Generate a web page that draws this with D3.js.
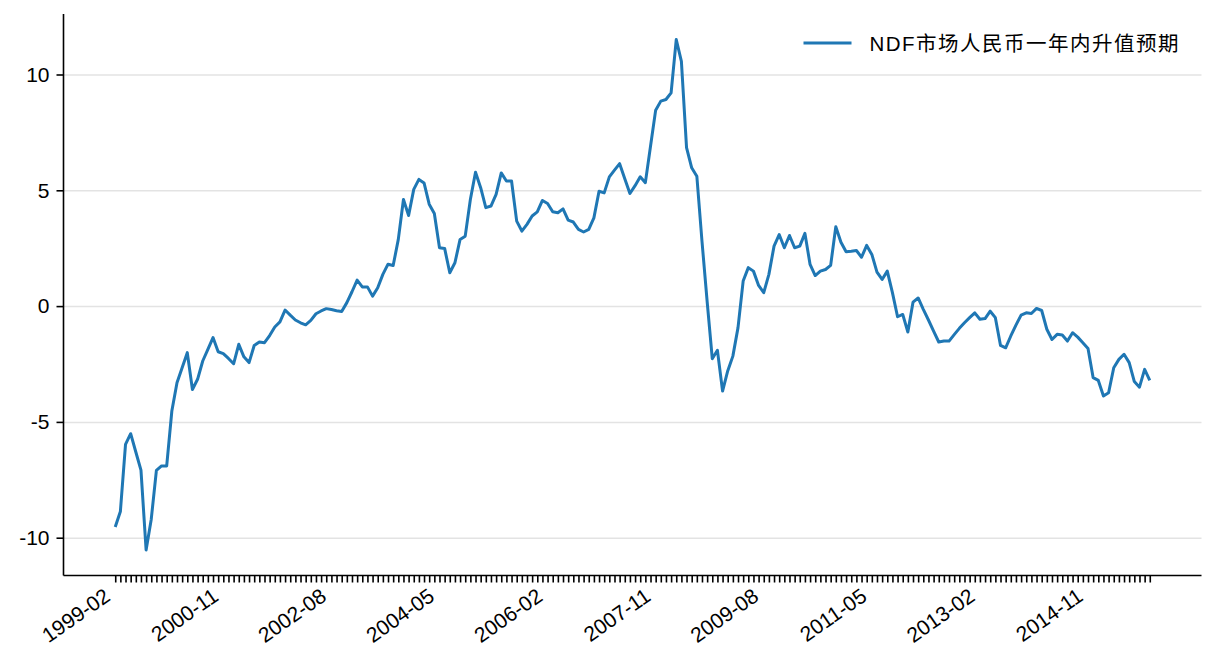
<!DOCTYPE html>
<html>
<head>
<meta charset="utf-8">
<script src="https://cdn.jsdelivr.net/npm/d3@7"></script>
<style>
    body { margin: 0; background: #fff; }
    #chart { width: 1216px; height: 672px; }
    text { font-family: "Liberation Sans", Arial, "Noto Sans CJK SC", sans-serif; fill: #000; }
    .legend text { font-family: "Liberation Sans", "Noto Sans CJK SC", sans-serif; }
    .axis path, .axis line { stroke: #000; stroke-width: 1.6px; }
    .grid line { stroke: #e3e3e3; stroke-width: 1.5px; }
    .grid path { display: none; }
</style>
</head>
<body>
<div id="chart"></div>
<script>
// monthly series, 1999-02 .. 2015-11
const startMonth = new Date(1999, 1, 1);
const values = [
    -9.54, -8.87, -5.97, -5.51, -6.3, -7.08, -10.53, -9.2, -7.09, -6.9,
    -6.9, -4.53, -3.31, -2.66, -2.01, -3.6, -3.16, -2.37, -1.87, -1.36,
    -1.97, -2.05, -2.26, -2.49, -1.65, -2.19, -2.44, -1.7, -1.55, -1.58,
    -1.27, -0.9, -0.68, -0.17, -0.39, -0.6, -0.72, -0.81, -0.62, -0.33,
    -0.21, -0.11, -0.15, -0.2, -0.23, 0.15, 0.62, 1.12, 0.83, 0.83,
    0.43, 0.79, 1.37, 1.81, 1.75, 2.88, 4.6, 3.91, 5.04, 5.47,
    5.32, 4.4, 4.0, 2.52, 2.49, 1.44, 1.87, 2.88, 3.02, 4.6,
    5.78, 5.11, 4.25, 4.32, 4.82, 5.75, 5.4, 5.4, 3.67, 3.24,
    3.53, 3.89, 4.07, 4.56, 4.43, 4.07, 4.03, 4.2, 3.71, 3.63,
    3.31, 3.2, 3.31, 3.81, 4.96, 4.89, 5.58, 5.87, 6.15, 5.5,
    4.86, 5.2, 5.58, 5.33, 6.9, 8.46, 8.85, 8.92, 9.21, 11.51,
    10.57, 6.84, 5.97, 5.61, 2.8, 0.2, -2.27, -1.91, -3.67, -2.8,
    -2.16, -0.93, 1.08, 1.66, 1.51, 0.89, 0.58, 1.37, 2.59, 3.09,
    2.52, 3.05, 2.52, 2.59, 3.14, 1.8, 1.32, 1.51, 1.58, 1.76,
    3.43, 2.76, 2.35, 2.37, 2.4, 2.11, 2.62, 2.23, 1.47, 1.15,
    1.51, 0.58, -0.46, -0.36, -1.12, 0.17, 0.35, -0.14, -0.6, -1.08,
    -1.55, -1.51, -1.51, -1.23, -0.96, -0.72, -0.5, -0.29, -0.57, -0.54,
    -0.22, -0.5, -1.7, -1.8, -1.29, -0.82, -0.39, -0.29, -0.32, -0.1,
    -0.19, -1.0, -1.44, -1.22, -1.25, -1.51, -1.15, -1.34, -1.58, -1.83,
    -3.09, -3.21, -3.88, -3.74, -2.66, -2.3, -2.08, -2.44, -3.26, -3.5,
    -2.73, -3.21
];
const tickLabels = ["1999-02", "2000-11", "2002-08", "2004-05", "2006-02",
    "2007-11", "2009-08", "2011-05", "2013-02", "2014-11"];
const yTicks = [-10, -5, 0, 5, 10];
const seriesName = "NDF市场人民币一年内升值预期";

const fmtMonth = d3.timeFormat("%Y-%m");
const months = values.map((v, i) => fmtMonth(d3.timeMonth.offset(startMonth, i)));
const data = months.map((m, i) => ({ month: m, value: values[i] }));

class LineVis {
    constructor(parentElement, data) {
        this.parentElement = parentElement;
        this.data = data;
        this.initVis();
    }

    initVis() {
        const vis = this;

        vis.margin = { top: 14, right: 14.5, bottom: 96.5, left: 63.5 };
        vis.width = 1216 - vis.margin.left - vis.margin.right;
        vis.height = 672 - vis.margin.top - vis.margin.bottom;

        vis.svg = d3.select("#" + vis.parentElement)
            .append("svg")
            .attr("width", 1216)
            .attr("height", 672)
            .append("g")
            .attr("transform", `translate(${vis.margin.left}, ${vis.margin.top})`);

        // matplotlib-like 5% margins on both axes
        const n = vis.data.length;
        vis.xScale = d3.scalePoint()
            .domain(vis.data.map(d => d.month))
            .range([0, vis.width])
            .padding(0.05 * (n - 1));

        const ext = d3.extent(vis.data, d => d.value);
        const pad = (ext[1] - ext[0]) * 0.05;
        vis.yScale = d3.scaleLinear()
            .domain([ext[0] - pad, ext[1] + pad])
            .range([vis.height, 0]);

        // grid
        vis.svg.append("g")
            .attr("class", "grid")
            .call(d3.axisLeft(vis.yScale).tickValues(yTicks).tickSize(-vis.width).tickFormat(""));

        // line
        const line = d3.line()
            .x(d => vis.xScale(d.month))
            .y(d => vis.yScale(d.value));

        vis.svg.append("path")
            .datum(vis.data)
            .attr("fill", "none")
            .attr("stroke", "#1f77b4")
            .attr("stroke-width", 3)
            .attr("stroke-linejoin", "round")
            .attr("d", line);

        // x axis: a tick per month, a label every 21 months
        const xAxis = d3.axisBottom(vis.xScale)
            .tickSize(7)
            .tickSizeOuter(0)
            .tickFormat(d => tickLabels.includes(d) ? d : "");

        const xg = vis.svg.append("g")
            .attr("class", "x-axis axis")
            .attr("transform", `translate(0, ${vis.height})`)
            .call(xAxis);
        xg.select(".domain").attr("d", `M0,0H${vis.width}`);
        xg.selectAll("text")
            .attr("y", 0)
            .attr("x", 0)
            .attr("dy", "0.74em")
            .attr("font-size", 21)
            .style("text-anchor", "end")
            .attr("transform", "translate(-13, 11) rotate(-35)");

        // y axis
        const yAxis = d3.axisLeft(vis.yScale)
            .tickValues(yTicks)
            .tickSize(7)
            .tickPadding(7)
            .tickSizeOuter(0)
            .tickFormat(d => String(d));

        const yg = vis.svg.append("g")
            .attr("class", "y-axis axis")
            .call(yAxis);
        yg.select(".domain").attr("d", `M0,0V${vis.height}`);
        yg.selectAll("text").attr("font-size", 21);

        // legend, no frame, upper right
        const legend = vis.svg.append("g")
            .attr("class", "legend")
            .attr("transform", `translate(${vis.width - 398}, 0)`);
        legend.append("line")
            .attr("x1", 0)
            .attr("x2", 48)
            .attr("y1", 29)
            .attr("y2", 29)
            .attr("stroke", "#1f77b4")
            .attr("stroke-width", 3);
        legend.append("text")
            .attr("x", 66)
            .attr("y", 36.5)
            .attr("font-size", 20.5)
            .attr("textLength", 309)
            .attr("lengthAdjust", "spacing")
            .text(seriesName);
    }
}

new LineVis("chart", data);
</script>
</body>
</html>
